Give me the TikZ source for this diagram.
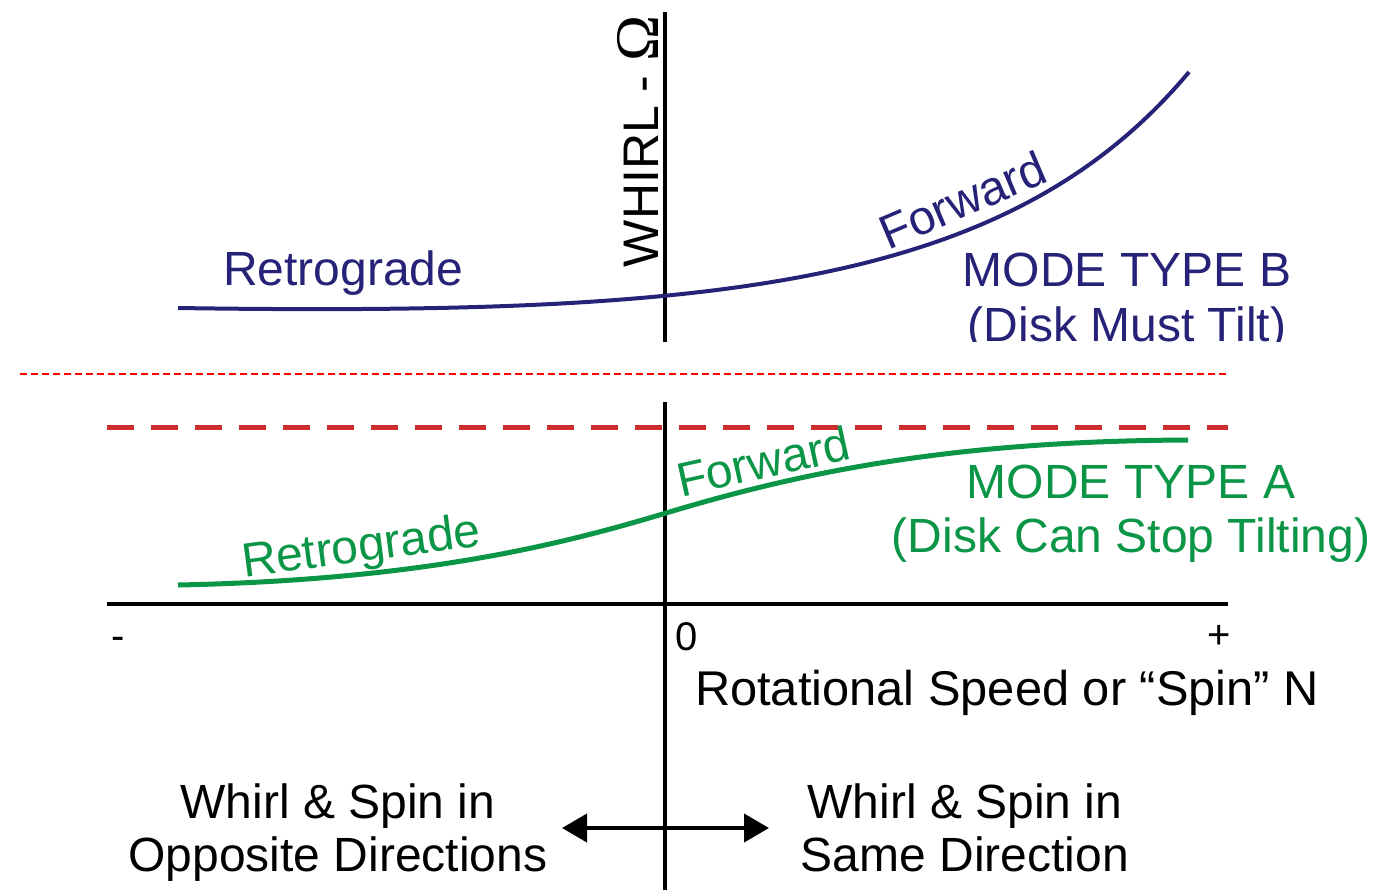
\documentclass[tikz,border=0pt]{standalone}
\usepackage{fontspec}
\setmainfont{Liberation Sans}
\newfontfamily\omegafont{Liberation Serif}
\usetikzlibrary{arrows.meta}
\definecolor{whirlblue}{RGB}{38,34,120}
\definecolor{whirlgreen}{RGB}{10,150,70}
\definecolor{limitred}{RGB}{205,45,45}

\begin{document}
\begin{tikzpicture}[x=0.5pt,y=-0.5pt,inner sep=0pt,outer sep=0pt,line width=2pt,
lbl/.style={font=\fontsize{24}{29}\selectfont},
ticklbl/.style={font=\fontsize{20}{24}\selectfont,anchor=base},
modetxt/.style={align=center,anchor=north},
bigtip/.tip={Triangle[length=12.5pt,width=14pt]}]
\useasboundingbox (0,0) rectangle (1381,890);

\coordinate (ytop) at (665,12);
\coordinate (ybreak) at (665,342);
\coordinate (ylow) at (665,402);
\coordinate (ybot) at (665,890);
\coordinate (xneg) at (107,604);
\coordinate (xpos) at (1228,604);
\coordinate (sepL) at (20,374);
\coordinate (sepR) at (1228,374);
\coordinate (limL) at (107,427);
\coordinate (limR) at (1228,427);
\coordinate (oppL) at (562,828);
\coordinate (sameR) at (769,828);

\draw (ytop) -- (ybreak);
\draw (ylow) -- (ybot);
\draw (xneg) -- (xpos);
\draw[red,line width=1pt,dash pattern=on 3.5pt off 2pt] (sepL) -- (sepR);
\draw[limitred,line width=2.5pt,dash pattern=on 13.5pt off 8.5pt] (limL) -- (limR);

\draw[whirlblue] (178,308) .. controls (720,316) and (1010,286) .. (1189,72);
\draw[whirlgreen,line width=2.5pt] (178,585) .. controls (420,580) and (560,545) .. (666,513)
  .. controls (800,472.6) and (950,441) .. (1188,440);

\draw (658,267) node[anchor=base west,rotate=90,font=\fontsize{25}{29}\selectfont] (whirl) {WHIRL - {\omegafont\fontsize{31}{31}\selectfont Ω}};

\draw (223,285) node[lbl,whirlblue,anchor=base west] (retroB) {Retrograde};
\draw (888,250) node[lbl,whirlblue,anchor=base west,rotate=23] (fwdB) {Forward};
\begin{scope}
\clip (0,0) rectangle (1381,341);
\draw (1127,253) node[modetxt,whirlblue,font=\fontsize{24}{27.5}\selectfont] (modeB) {MODE TYPE B\\(Disk Must Tilt)};
\end{scope}

\draw (244,577) node[lbl,whirlgreen,anchor=base west,rotate=7.5] (retroA) {Retrograde};
\draw (681,497) node[lbl,whirlgreen,anchor=base west,rotate=12.5] (fwdA) {Forward};
\draw (1131,465) node[modetxt,whirlgreen,font=\fontsize{24}{27}\selectfont] (modeA) {MODE TYPE A\\(Disk Can Stop Tilting)};

\draw (118,649) node[ticklbl] (minus) {-};
\draw (687,650) node[ticklbl] (zero) {0};
\draw (1219,648) node[ticklbl] (plus) {+};
\draw (695,705) node[anchor=base west,font=\fontsize{24.4}{29}\selectfont] (spin) {Rotational Speed or “Spin” N};

\draw (338,784) node[modetxt,font=\fontsize{24}{26.5}\selectfont] (opposite) {Whirl \& Spin in\\Opposite Directions};
\draw (965,784) node[modetxt,font=\fontsize{24}{26.5}\selectfont] (same) {Whirl \& Spin in\\Same Direction};
\draw[bigtip-bigtip] (oppL) -- (sameR);
\end{tikzpicture}
\end{document}
